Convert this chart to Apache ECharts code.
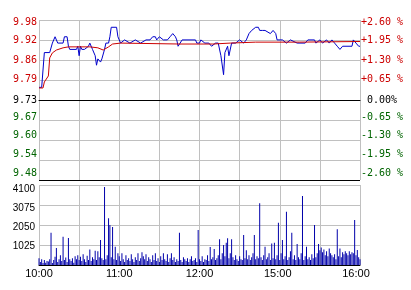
<!DOCTYPE html>
<html>
<head>
<meta charset="utf-8">
<script src="https://cdn.jsdelivr.net/npm/echarts@6/dist/echarts.min.js"></script>
<style>
html,body{margin:0;padding:0;background:#fff;}
#chart{width:411px;height:290px;}
</style>
</head>
<body>
<div id="chart"></div>
<script>
// ---- data ----
const prevClose = 9.73;
const timeLabels = ['10:00', '11:00', '12:00', '15:00', '16:00'];
const timeLabelMinutes = [0, 60, 120, 180, 240];
const leftTicks = ['9.48', '9.54', '9.60', '9.67', '9.73', '9.79', '9.86', '9.92', '9.98'];
const rightTicks = ['-2.60 %', '-1.95 %', '-1.30 %', '-0.65 %', ' 0.00%', '+0.65 %', '+1.30 %', '+1.95 %', '+2.60 %'];
const volTicks = ['', '1025', '2050', '3075', '4100'];

// price line (minute index, price)
const priceMin = [0, 2, 4, 8, 10, 12, 13, 14, 18, 19, 21, 22, 23, 28, 29, 30, 31, 32, 34, 35, 37, 38, 40, 41, 42, 43, 44, 46, 47, 49,
  50, 52, 53, 54, 58, 59, 61, 64, 68, 72, 76, 80, 83, 85, 87, 88, 90, 91, 93, 96, 98, 100, 102, 103, 104, 105, 107, 117, 118, 120,
  121, 124, 127, 129, 132, 134, 135, 136, 138, 139, 141, 142, 143, 144, 147, 150, 153, 155, 157, 159, 160, 162, 164, 165, 167, 169,
  173, 175, 177, 178, 182, 185, 188, 193, 199, 201, 206, 207, 210, 212, 215, 217, 219, 221, 223, 225, 227, 234, 235, 237, 239, 240];
const priceVal = [9.77, 9.77, 9.88, 9.88, 9.91, 9.93, 9.93, 9.91, 9.91, 9.93, 9.93, 9.90, 9.89, 9.89, 9.90, 9.87, 9.90, 9.89, 9.89, 9.89, 9.90, 9.91, 9.89, 9.89, 9.87, 9.84, 9.86, 9.85, 9.86, 9.89,
  9.91, 9.91, 9.93, 9.96, 9.96, 9.93, 9.91, 9.92, 9.91, 9.92, 9.91, 9.92, 9.92, 9.93, 9.93, 9.92, 9.93, 9.93, 9.92, 9.92, 9.93, 9.94, 9.93, 9.92, 9.90, 9.90, 9.92, 9.92, 9.91, 9.91,
  9.92, 9.91, 9.91, 9.90, 9.91, 9.91, 9.91, 9.87, 9.81, 9.88, 9.90, 9.87, 9.87, 9.91, 9.91, 9.92, 9.91, 9.92, 9.94, 9.95, 9.95, 9.96, 9.96, 9.95, 9.95, 9.95,
  9.94, 9.95, 9.94, 9.92, 9.92, 9.91, 9.92, 9.91, 9.91, 9.92, 9.92, 9.91, 9.92, 9.91, 9.92, 9.91, 9.92, 9.91, 9.90, 9.89, 9.90, 9.90, 9.92, 9.91, 9.90, 9.90];

// average price line
const avgMin = [0, 3, 4, 7, 8, 10, 13, 18, 22, 38, 44, 48, 52, 55, 61, 105, 130, 143, 162, 195, 240];
const avgVal = [9.768, 9.768, 9.787, 9.806, 9.863, 9.879, 9.888, 9.895, 9.898, 9.898, 9.895, 9.888, 9.898, 9.907, 9.910, 9.907, 9.907, 9.910, 9.913, 9.913, 9.915];

// volume per minute (index = minute 0..240)
const volume = [
  350, 150, 300, 100, 250, 120, 200, 180, 300, 1650,
  100, 250, 420, 870, 150, 300, 500, 200, 1450, 250,
  380, 150, 1380, 300, 200, 350, 120, 450, 300, 500,
  250, 420, 200, 550, 300, 150, 480, 250, 800, 200,
  400, 300, 730, 250, 700, 400, 1280, 350, 250, 4000,
  300, 500, 2400, 2050, 400, 1950, 300, 930, 250, 600,
  450, 200, 600, 300, 150, 500, 250, 350, 200, 550,
  300, 150, 400, 250, 600, 200, 350, 650, 450, 300,
  550, 200, 400, 300, 150, 500, 250, 600, 200, 350,
  150, 450, 250, 600, 300, 200, 550, 150, 350, 600,
  250, 400, 150, 300, 200, 1650, 250, 150, 400, 300,
  200, 350, 150, 300, 450, 200, 250, 350, 150, 1800,
  300, 200, 450, 150, 300, 250, 500, 200, 920, 300,
  400, 820, 250, 350, 500, 1320, 300, 600, 1030, 450,
  1140, 1370, 350, 600, 1320, 400, 250, 500, 300, 200,
  450, 300, 250, 1540, 350, 750, 300, 500, 250, 400,
  600, 1540, 300, 450, 350, 3160, 400, 250, 500, 940,
  300, 400, 600, 250, 1100, 350, 1140, 300, 500, 2170,
  250, 600, 1280, 300, 450, 2730, 250, 400, 700, 1650,
  300, 500, 250, 1070, 400, 300, 600, 3540, 250, 450,
  940, 300, 400, 250, 550, 350, 2050, 400, 600, 1070,
  750, 900, 650, 800, 500, 700, 450, 850, 600, 500,
  400, 550, 300, 1830, 450, 850, 400, 650, 550, 700,
  600, 500, 700, 550, 650, 600, 2300, 500, 770, 400,
  300
];

// ---- chart ----
const RED = '#cc0000', GREEN = '#006400', GRID = '#c0c0c0';
const shifts = [7, 6, 5, 3, 0, 1, 0, 0, -2];   // label vertical nudge (px, up positive)
function padFor(s, extraRight, extraLeft) {
  return s >= 0 ? [0, extraRight || 0, 2 * s, extraLeft || 0] : [-2 * s, extraRight || 0, 0, extraLeft || 0];
}
function tickColor(i) { return i < 4 ? GREEN : (i === 4 ? '#000' : RED); }
const richLeft = {}, richRight = {};
for (let i = 0; i < 9; i++) {
  richLeft['l' + i] = { color: tickColor(i), fontFamily: 'DejaVu Sans Mono', fontSize: 10, padding: padFor(shifts[i]) };
  richRight['r' + i] = { color: tickColor(i), fontFamily: 'DejaVu Sans Mono', fontSize: 10, padding: padFor(shifts[i]) };
}
const volShift = [0, -1, -2, -3, -4];
const richVol = {};
for (let i = 0; i < 5; i++) {
  richVol['v' + i] = { color: '#000', fontFamily: 'Liberation Sans', fontSize: 10, padding: padFor(volShift[i]) };
}
const timeShift = [0, 0, 0, 4, 8];
const richTime = {};
for (let i = 0; i < 5; i++) {
  richTime['t' + i] = { color: '#000', fontFamily: 'Liberation Sans', fontSize: 11, padding: [0, timeShift[i], 0, 0] };
}

const priceLine = priceMin.map((m, i) => [m, priceVal[i]]);
const avgLine = avgMin.map((m, i) => [m, avgVal[i]]);
const volData = volume.map((v, i) => [i, v]);

const chart = echarts.init(document.getElementById('chart'), null, { renderer: 'canvas' });
chart.setOption({
  animation: false,
  backgroundColor: '#fff',
  grid: [
    { left: 39, top: 20, width: 321, height: 160 },
    { left: 39, top: 185, width: 321, height: 80 }
  ],
  xAxis: [
    {
      type: 'value', gridIndex: 0, min: 0, max: 240, interval: 30,
      axisLabel: { show: false }, axisTick: { show: false },
      axisLine: { show: true, lineStyle: { color: '#000', width: 1 } },
      splitLine: { show: true, lineStyle: { color: GRID, width: 1 } }
    },
    {
      type: 'value', gridIndex: 1, min: 0, max: 240, interval: 30,
      axisTick: { show: false },
      axisLine: { show: true, lineStyle: { color: '#000', width: 1 } },
      splitLine: { show: true, lineStyle: { color: GRID, width: 1 } },
      axisLabel: {
        margin: 3,
        formatter: function (v) {
          const k = timeLabelMinutes.indexOf(Math.round(v));
          return k >= 0 ? '{t' + k + '|' + timeLabels[k] + '}' : '';
        },
        rich: richTime
      }
    }
  ],
  yAxis: [
    {
      type: 'value', gridIndex: 0, position: 'left', min: -2.6, max: 2.6, interval: 0.65,
      axisLine: { show: false }, axisTick: { show: false },
      splitLine: { show: true, lineStyle: { color: ['#000', GRID, GRID, GRID, '#000', GRID, GRID, GRID, GRID], width: 1 } },
      axisLabel: {
        margin: 2,
        formatter: function (v, i) { return '{l' + i + '|' + leftTicks[i] + '}'; },
        rich: richLeft
      }
    },
    {
      type: 'value', gridIndex: 0, position: 'right', min: -2.6, max: 2.6, interval: 0.65,
      axisLine: { show: false }, axisTick: { show: false }, splitLine: { show: false },
      axisLabel: {
        margin: 1, align: 'left',
        formatter: function (v, i) { return '{r' + i + '|' + rightTicks[i] + '}'; },
        rich: richRight
      }
    },
    {
      type: 'value', gridIndex: 0, show: false,
      min: prevClose * (1 - 0.026), max: prevClose * (1 + 0.026),
      splitLine: { show: false }
    },
    {
      type: 'value', gridIndex: 1, min: 0, max: 4100, interval: 1025,
      axisLine: { show: false }, axisTick: { show: false },
      splitLine: { show: true, lineStyle: { color: GRID, width: 1 } },
      axisLabel: {
        margin: 4,
        formatter: function (v, i) { return volTicks[i] ? '{v' + i + '|' + volTicks[i] + '}' : ''; },
        rich: richVol
      }
    }
  ],
  series: [
    {
      type: 'bar', xAxisIndex: 1, yAxisIndex: 3, data: volData,
      barWidth: 1, itemStyle: { color: '#0000aa' }, silent: true
    },
    {
      type: 'line', xAxisIndex: 0, yAxisIndex: 2, data: priceLine,
      showSymbol: false, symbol: 'none', lineStyle: { color: '#0000cc', width: 1 }, silent: true
    },
    {
      type: 'line', xAxisIndex: 0, yAxisIndex: 2, data: avgLine,
      showSymbol: false, symbol: 'none', lineStyle: { color: '#cc0000', width: 1 }, silent: true
    }
  ]
});
</script>
</body>
</html>
